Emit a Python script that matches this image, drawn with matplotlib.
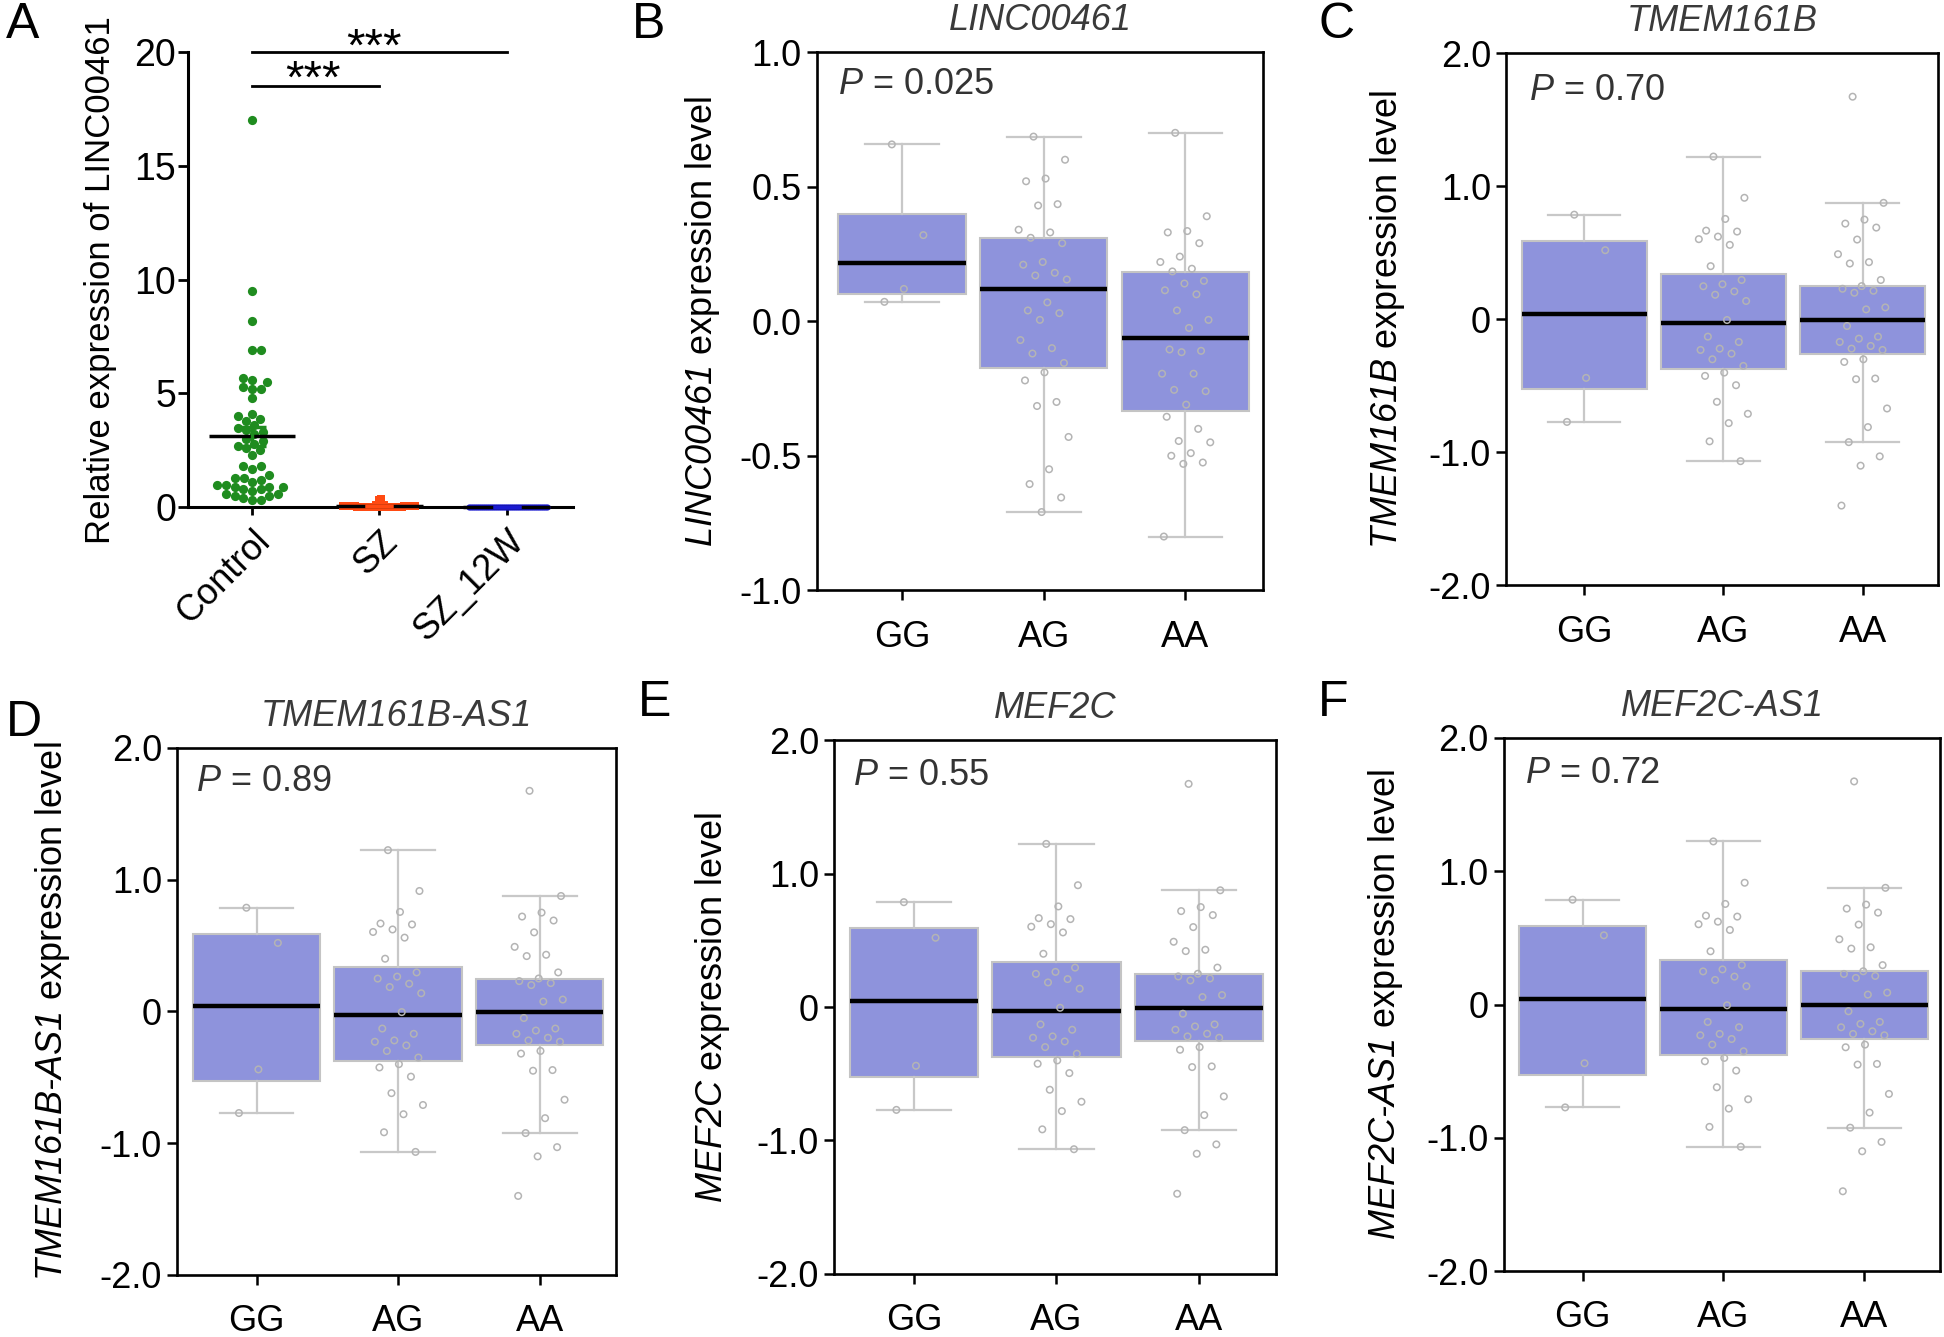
import numpy as np
import matplotlib
matplotlib.use("Agg")
import matplotlib.pyplot as plt

plt.rcParams['font.family'] = ['Liberation Sans', 'DejaVu Sans']
plt.rcParams['mathtext.fontset'] = 'custom'
# only italic gene names and "P" are set in mathtext, so use italic throughout
plt.rcParams['mathtext.rm'] = 'Liberation Sans:italic'
plt.rcParams['mathtext.it'] = 'Liberation Sans:italic'
plt.rcParams['mathtext.bf'] = 'Liberation Sans:bold'

# ---------------- Panel A data ----------------
groups_A = ['Control', 'SZ', 'SZ_12W']
control_vals = [17.0, 9.5, 8.2, 6.9, 6.9, 5.7, 5.6, 5.5, 5.2, 5.2, 5.3, 4.8, 4.1, 4.0,
                3.9, 3.8, 3.6, 3.5, 3.4, 3.3, 3.2, 3.0, 2.9, 2.8, 2.7, 2.6, 2.5, 2.3,
                1.8, 1.8, 1.7, 1.4, 1.3, 1.3, 1.2, 1.1, 1.0, 1.0, 0.9, 0.9, 0.8, 0.7,
                0.6, 0.6, 0.5, 0.4, 0.3, 0.3, 0.8, 0.5, 0.9]
sz_vals = [0.35, 0.30, 0.12, 0.10, 0.09, 0.08, 0.08, 0.07, 0.07, 0.06, 0.06, 0.06,
           0.05, 0.05, 0.05, 0.05, 0.04, 0.04, 0.04, 0.04, 0.04, 0.03, 0.03, 0.03,
           0.03, 0.03, 0.03, 0.02, 0.02, 0.02, 0.02, 0.02, 0.02, 0.02, 0.01, 0.01,
           0.01, 0.01, 0.01, 0.01, 0.01, 0.01, 0.005, 0.005, 0.005, 0.005]
sz12w_vals = [0.03, 0.03, 0.02, 0.02, 0.02, 0.02, 0.015, 0.015, 0.015, 0.015, 0.01,
              0.01, 0.01, 0.01, 0.01, 0.01, 0.01, 0.008, 0.008, 0.008, 0.008, 0.006,
              0.006, 0.006, 0.005, 0.005, 0.005, 0.005, 0.004, 0.004, 0.004, 0.003,
              0.003, 0.003, 0.002, 0.002, 0.002, 0.001, 0.001, 0.001]
A_colors = ['#1f8c1f', '#ff4a12', '#1a1ad0']
A_markers = ['o', 's', 'o']
A_yticks = [0, 5, 10, 15, 20]
sig_marks = ['***', '***']

# ---------------- Box panels data ----------------
genotypes = ['GG', 'AG', 'AA']

# LINC00461
linc_q1 = [0.10, -0.172, -0.335]
linc_med = [0.215, 0.12, -0.062]
linc_q3 = [0.40, 0.309, 0.183]
linc_lo = [0.072, -0.709, -0.80]
linc_hi = [0.657, 0.686, 0.70]
linc_gg = [0.657, 0.32, 0.12, 0.072]
linc_ag = [0.686, 0.60, 0.53, 0.52, 0.435, 0.43, 0.34, 0.33, 0.31, 0.29, 0.22, 0.21,
           0.18, 0.17, 0.155, 0.07, 0.04, 0.03, 0.005, -0.07, -0.10, -0.12, -0.155,
           -0.19, -0.22, -0.30, -0.315, -0.43, -0.55, -0.605, -0.655, -0.709]
linc_aa = [0.70, 0.39, 0.335, 0.33, 0.29, 0.24, 0.22, 0.195, 0.185, 0.15, 0.14, 0.115,
           0.10, 0.04, 0.005, -0.025, -0.105, -0.11, -0.115, -0.195, -0.195, -0.255,
           -0.26, -0.31, -0.355, -0.40, -0.445, -0.45, -0.49, -0.50, -0.525, -0.53, -0.80]

# TMEM161B (same values appear in the TMEM161B-AS1, MEF2C and MEF2C-AS1 panels)
tmem_q1 = [-0.527, -0.375, -0.258]
tmem_med = [0.043, -0.03, -0.005]
tmem_q3 = [0.59, 0.338, 0.249]
tmem_lo = [-0.771, -1.066, -0.923]
tmem_hi = [0.787, 1.224, 0.876]
tmem_gg = [0.787, 0.52, -0.44, -0.771]
tmem_ag = [1.224, 0.914, 0.755, 0.667, 0.66, 0.622, 0.603, 0.56, 0.40, 0.296, 0.264,
           0.249, 0.21, 0.185, 0.138, -0.005, -0.13, -0.17, -0.22, -0.23, -0.258,
           -0.30, -0.35, -0.40, -0.425, -0.495, -0.62, -0.71, -0.78, -0.917, -1.066]
tmem_aa = [1.674, 0.876, 0.75, 0.72, 0.69, 0.60, 0.49, 0.43, 0.42, 0.296, 0.25, 0.23,
           0.215, 0.20, 0.09, 0.075, -0.05, -0.13, -0.145, -0.17, -0.20, -0.22, -0.23,
           -0.30, -0.32, -0.445, -0.45, -0.67, -0.81, -0.923, -1.03, -1.10, -1.40]

panel_titles = ['LINC00461', 'TMEM161B', 'TMEM161B-AS1', 'MEF2C', 'MEF2C-AS1']
panel_pvals = ['0.025', '0.70', '0.89', '0.55', '0.72']
panel_letters = ['A', 'B', 'C', 'D', 'E', 'F']

BOX_FC = '#8e93dc'
BOX_EC = '#c4c4c4'
WHISK = '#c8c8c8'
PT_EC = '#b4b4b4'

FS = 26

FIG_W, FIG_H = 1568.0, 1078.0
def rect(l, r, t, b):
    return [l / FIG_W, 1 - b / FIG_H, (r - l) / FIG_W, (b - t) / FIG_H]

fig = plt.figure(figsize=(19.44, 13.37), dpi=100)

# ================= Panel A =================
axA = fig.add_axes(rect(152, 462, 42, 409))
axA.set_xlim(-0.5, 2.52)
axA.set_ylim(0, 20)
for s in ['top', 'right']:
    axA.spines[s].set_visible(False)
for s in ['left', 'bottom']:
    axA.spines[s].set_linewidth(2.2)
axA.set_yticks(A_yticks)
axA.set_yticklabels([str(v) for v in A_yticks])
axA.set_xticks(range(3))
axA.set_xticklabels(groups_A, rotation=45, ha='right', va='top', rotation_mode='anchor')
axA.tick_params(axis='y', direction='out', length=7, width=2.0, labelsize=27, pad=2)
axA.tick_params(axis='x', direction='out', length=6, width=2.0, labelsize=26, pad=6)
axA.set_ylabel('Relative expression of LINC00461', fontsize=25)
axA.yaxis.set_label_coords(-0.185, 0.5)

fig.canvas.draw()

def swarm(ax, x0, vals, d):
    vals = np.asarray(vals, float)
    pts = ax.transData.transform(np.column_stack([np.full(len(vals), x0), vals]))
    ys = pts[:, 1]
    order = np.argsort(ys)
    placed = []
    off = np.zeros(len(vals))
    for i in order:
        y = ys[i]
        cands = [0.0]
        for (px, py) in placed:
            dy = y - py
            if abs(dy) < d:
                dx = np.sqrt(d * d - dy * dy)
                cands += [px + dx, px - dx]
        cands.sort(key=abs)
        for c in cands:
            if all((c - px) ** 2 + (y - py) ** 2 >= d * d - 1e-6 for px, py in placed):
                off[i] = c
                placed.append((c, y))
                break
    ppu = (ax.transData.transform((1, 0))[0] - ax.transData.transform((0, 0))[0])
    return x0 + off / ppu

A_data = [control_vals, sz_vals, sz12w_vals]
A_d = [9.0, 1.9, 2.0]
A_size = [44, 34, 20]
for i, vals in enumerate(A_data):
    xs = swarm(axA, i, vals, A_d[i])
    axA.scatter(xs, vals, s=A_size[i], marker=A_markers[i], color=A_colors[i],
                linewidths=0, zorder=3, clip_on=False)
    m = np.mean(vals)
    sem = np.std(vals, ddof=1) / np.sqrt(len(vals))
    axA.hlines(m, i - 0.34, i + 0.34, color='black', lw=2.5, zorder=4, clip_on=False)
    axA.errorbar([i], [m], yerr=[sem], color=A_colors[i], capsize=10, capthick=2.5,
                 elinewidth=2.5, zorder=4, clip_on=False)

# significance lines
axA.plot([0, 2], [20, 20], color='black', lw=2.0, clip_on=False)
axA.plot([0, 1], [18.53, 18.53], color='black', lw=2.0, clip_on=False)
axA.text(0.96, 19.62, sig_marks[0], ha='center', va='baseline', fontsize=34)
axA.text(0.48, 18.22, sig_marks[1], ha='center', va='baseline', fontsize=34)

# ================= Box panels =================
box_rects = [rect(659, 1019, 42, 476), rect(1215, 1563, 43, 472),
             rect(143, 497, 603, 1028), rect(673, 1029, 597, 1027),
             rect(1213, 1565, 595, 1025)]
label_x = [-0.213, -0.23, -0.24, -0.233, -0.227]
p_pos = [(0.047, 0.94), (0.052, 0.93), (0.042, 0.936), (0.042, 0.935), (0.048, 0.933)]

box_stats = [
    (linc_q1, linc_med, linc_q3, linc_lo, linc_hi, [linc_gg, linc_ag, linc_aa]),
    (tmem_q1, tmem_med, tmem_q3, tmem_lo, tmem_hi, [tmem_gg, tmem_ag, tmem_aa]),
    (tmem_q1, tmem_med, tmem_q3, tmem_lo, tmem_hi, [tmem_gg, tmem_ag, tmem_aa]),
    (tmem_q1, tmem_med, tmem_q3, tmem_lo, tmem_hi, [tmem_gg, tmem_ag, tmem_aa]),
    (tmem_q1, tmem_med, tmem_q3, tmem_lo, tmem_hi, [tmem_gg, tmem_ag, tmem_aa]),
]

def gene_label(name):
    if '-' in name:
        a, b = name.split('-')
        return r'$\mathrm{%s}\text{-}\mathrm{%s}$ expression level' % (a, b)
    return r'$\mathrm{%s}$ expression level' % name

for k in range(5):
    ax = fig.add_axes(box_rects[k])
    q1, med, q3, lo, hi, pts = box_stats[k]
    stats = [dict(q1=q1[i], med=med[i], q3=q3[i], whislo=lo[i], whishi=hi[i], fliers=[])
             for i in range(3)]
    ax.bxp(stats, positions=[0, 1, 2], widths=0.9, capwidths=0.52, patch_artist=True,
           showfliers=False,
           boxprops=dict(facecolor=BOX_FC, edgecolor=BOX_EC, linewidth=1.5),
           medianprops=dict(color='black', linewidth=3.2),
           whiskerprops=dict(color=WHISK, linewidth=1.6),
           capprops=dict(color=WHISK, linewidth=1.6))
    for i, vals in enumerate(pts):
        n = len(vals)
        offs = ((np.arange(n) * 0.618034 + 0.3) % 1.0 - 0.5) * 0.36
        ax.scatter(i + offs, vals, s=22, facecolors='none', edgecolors=PT_EC,
                   linewidths=1.1, zorder=4)
    if k == 0:
        ax.set_ylim(-1.0, 1.0)
        yt = [-1.0, -0.5, 0.0, 0.5, 1.0]
        ax.set_yticks(yt)
        ax.set_yticklabels(['-1.0', '-0.5', '0.0', '0.5', '1.0'])
        ax.set_xlim(-0.6, 2.55)
    else:
        ax.set_ylim(-2.0, 2.0)
        yt = [-2.0, -1.0, 0.0, 1.0, 2.0]
        ax.set_yticks(yt)
        ax.set_yticklabels(['-2.0', '-1.0', '0', '1.0', '2.0'])
        ax.set_xlim(-0.56, 2.54)
    ax.set_xticks([0, 1, 2])
    ax.set_xticklabels(genotypes)
    for s in ax.spines.values():
        s.set_linewidth(1.9)
    ax.tick_params(axis='y', direction='out', length=7, width=1.8, labelsize=FS, pad=4)
    ax.tick_params(axis='x', direction='out', length=7, width=1.8, labelsize=FS, pad=14)
    ax.set_title(panel_titles[k], fontsize=FS, fontstyle='italic', color='#3a3a3a', pad=16)
    ax.set_ylabel(gene_label(panel_titles[k]), fontsize=FS)
    ax.yaxis.set_label_coords(label_x[k], 0.5)
    ax.text(p_pos[k][0], p_pos[k][1], r'$P$ = ' + panel_pvals[k],
            transform=ax.transAxes, ha='left', va='center', fontsize=FS, color='#333333')

# panel letters
letter_pos = [(0.003, 0.981), (0.325, 0.981), (0.678, 0.981),
              (0.003, 0.459), (0.328, 0.474), (0.678, 0.474)]
for L, (x, y) in zip(panel_letters, letter_pos):
    fig.text(x, y, L, fontsize=36, ha='left', va='center')

fig.savefig('out.png', dpi=100)
